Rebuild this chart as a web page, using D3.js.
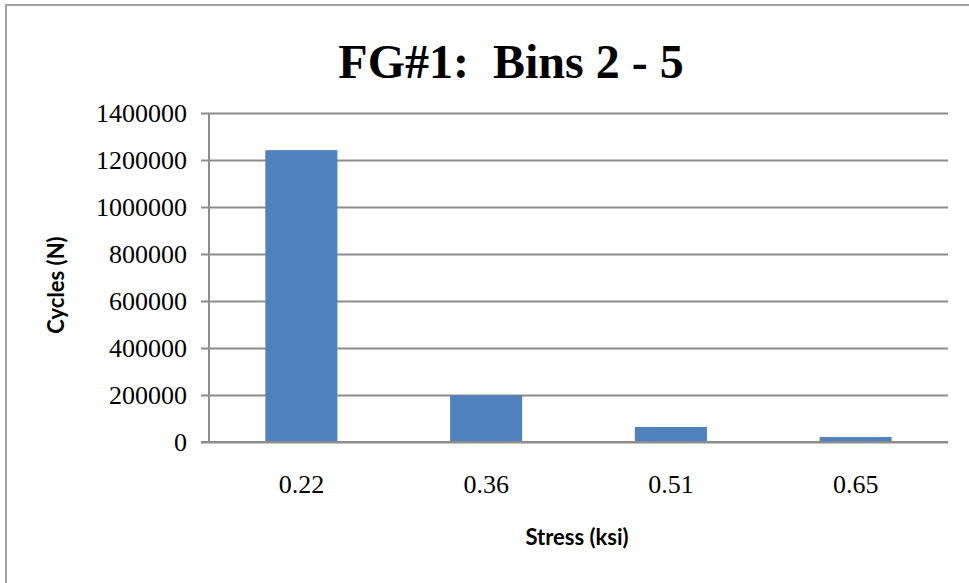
<!DOCTYPE html>
<html>
<head>
<meta charset="utf-8">
<script src="https://cdn.jsdelivr.net/npm/d3@7"></script>
<style>
  html, body { margin: 0; padding: 0; background: #fff; }
  svg { display: block; }
</style>
</head>
<body>
<svg id="chart" width="969" height="583"></svg>
<script>
// Stress bins and the cycle counts for each bin
const stressLabels = ["0.22", "0.36", "0.51", "0.65"];
const cycles = [1242000, 199000, 64000, 21000];
const yTicks = [0, 200000, 400000, 600000, 800000, 1000000, 1200000, 1400000];

const chartTitle = "FG#1:  Bins 2 - 5";
const xTitle = "Stress (ksi)";
const yTitle = "Cycles (N)";

const svg = d3.select("#chart");
const plot = { left: 209, right: 948, top: 113, bottom: 442 };

// Chart frame (extends past the right and bottom edges)
svg.append("rect")
  .attr("x", 6).attr("y", 5)
  .attr("width", 1100).attr("height", 700)
  .attr("fill", "#fff")
  .attr("stroke", "#a0a0a0")
  .attr("stroke-width", 2);

const x = d3.scaleBand()
  .domain(stressLabels)
  .range([plot.left, plot.right])
  .padding(0);

const y = d3.scaleLinear()
  .domain([0, 1400000])
  .range([plot.bottom, plot.top]);

// Horizontal gridlines with short ticks to the left
const grid = svg.append("g")
  .attr("transform", `translate(${plot.left},0)`)
  .call(d3.axisLeft(y).tickValues(yTicks).tickSize(-(plot.right - plot.left)).tickFormat(""));
grid.select(".domain").remove();
grid.selectAll(".tick line")
  .attr("x1", -8)
  .attr("stroke", "#8c8c8c")
  .attr("stroke-width", 2);

// Vertical axis line
svg.append("line")
  .attr("x1", plot.left).attr("x2", plot.left)
  .attr("y1", plot.top).attr("y2", plot.bottom)
  .attr("stroke", "#8c8c8c")
  .attr("stroke-width", 2);

// Bars
const barFrac = 0.39;
svg.append("g").selectAll("rect")
  .data(stressLabels.map((s, i) => ({ s, v: cycles[i] })))
  .join("rect")
  .attr("x", d => x(d.s) + x.bandwidth() * (1 - barFrac) / 2)
  .attr("width", x.bandwidth() * barFrac)
  .attr("y", d => y(d.v))
  .attr("height", d => y(0) - y(d.v))
  .attr("fill", "#4f81bd");

// Redraw the baseline over the bars
svg.append("line")
  .attr("x1", plot.left - 8).attr("x2", plot.right)
  .attr("y1", y(0)).attr("y2", y(0))
  .attr("stroke", "#8c8c8c")
  .attr("stroke-width", 2);

const serif = "'Liberation Serif', 'Times New Roman', serif";

// Y tick labels
svg.append("g").selectAll("text")
  .data(yTicks)
  .join("text")
  .attr("x", 187)
  .attr("y", d => y(d))
  .attr("dy", "0.35em")
  .attr("text-anchor", "end")
  .attr("font-family", serif)
  .attr("font-size", 26)
  .attr("fill", "#000")
  .text(d => d3.format("d")(d));

// X tick labels
svg.append("g").selectAll("text")
  .data(stressLabels)
  .join("text")
  .attr("x", d => x(d) + x.bandwidth() / 2)
  .attr("y", 493)
  .attr("text-anchor", "middle")
  .attr("font-family", serif)
  .attr("font-size", 26)
  .attr("fill", "#000")
  .text(d => d);

// Title
svg.append("text")
  .attr("x", 511)
  .attr("y", 78)
  .attr("text-anchor", "middle")
  .attr("font-family", serif)
  .attr("font-weight", "bold")
  .attr("font-size", 48)
  .attr("fill", "#000")
  .style("white-space", "pre")
  .text(chartTitle);

// Axis titles
svg.append("text")
  .attr("x", 577)
  .attr("y", 545)
  .attr("text-anchor", "middle")
  .attr("font-family", "Lato, 'Open Sans', sans-serif")
  .attr("font-weight", "bold")
  .attr("font-size", 22)
  .attr("fill", "#000")
  .text(xTitle);

svg.append("text")
  .attr("transform", "translate(64,285) rotate(-90)")
  .attr("text-anchor", "middle")
  .attr("font-family", "Lato, 'Open Sans', sans-serif")
  .attr("font-weight", "bold")
  .attr("font-size", 22)
  .attr("fill", "#000")
  .text(yTitle);
</script>
</body>
</html>
